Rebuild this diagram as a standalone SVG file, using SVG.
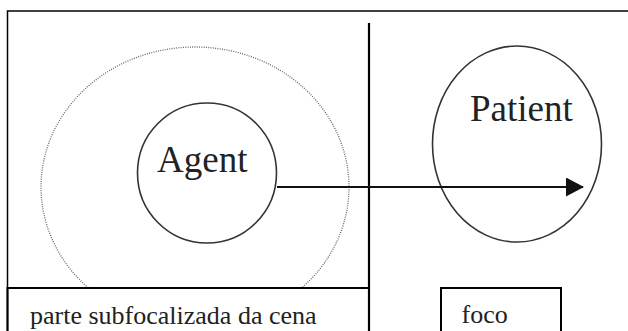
<svg xmlns="http://www.w3.org/2000/svg" width="628" height="331" viewBox="0 0 628 331">
<defs>
<style>
.t{font-family:"Liberation Serif","Times New Roman",serif;fill:#222}
.ln{stroke:#000;fill:none}
.node{stroke:#333;stroke-width:1.6;fill:none}
</style>
<marker id="ah" markerWidth="18" markerHeight="19" viewBox="0 0 18 19" refX="17" refY="9.5" markerUnits="userSpaceOnUse" orient="auto">
<path d="M0,0 L18,9.5 L0,19 Z" fill="#111"/>
</marker>
<clipPath id="clipTop"><rect x="0" y="0" width="628" height="288"/></clipPath>
</defs>
<rect width="628" height="331" fill="#fff"/>
<g id="frame">
<path class="ln" stroke-width="1.5" d="M7.5,331 V11 H628"/>
</g>
<g id="divider">
<line class="ln" stroke-width="2.2" x1="369" y1="23" x2="369" y2="331"/>
</g>
<g id="scene">
<ellipse cx="195" cy="187" rx="154" ry="140" fill="none" stroke="#666" stroke-width="1.3" stroke-dasharray="1 1.3" clip-path="url(#clipTop)"/>
</g>
<g id="agent">
<ellipse class="node" cx="207" cy="173" rx="69.5" ry="70"/>
<text class="t" x="157" y="172" font-size="37">Agent</text>
</g>
<g id="patient">
<ellipse class="node" cx="517" cy="144" rx="84.5" ry="98"/>
<text class="t" x="470" y="121" font-size="37">Patient</text>
</g>
<g id="connectors">
<line x1="277" y1="187" x2="583" y2="187" stroke="#111" stroke-width="2" marker-end="url(#ah)"/>
</g>
<g id="label-sub">
<path class="ln" stroke-width="2" d="M7.5,331 V288 H369 V331"/>
<text class="t" x="30" y="324" font-size="26">parte subfocalizada da cena</text>
</g>
<g id="label-foco">
<path class="ln" stroke-width="2" d="M441,331 V288 H561 V331"/>
<text class="t" x="461.5" y="323" font-size="26">foco</text>
</g>
</svg>
